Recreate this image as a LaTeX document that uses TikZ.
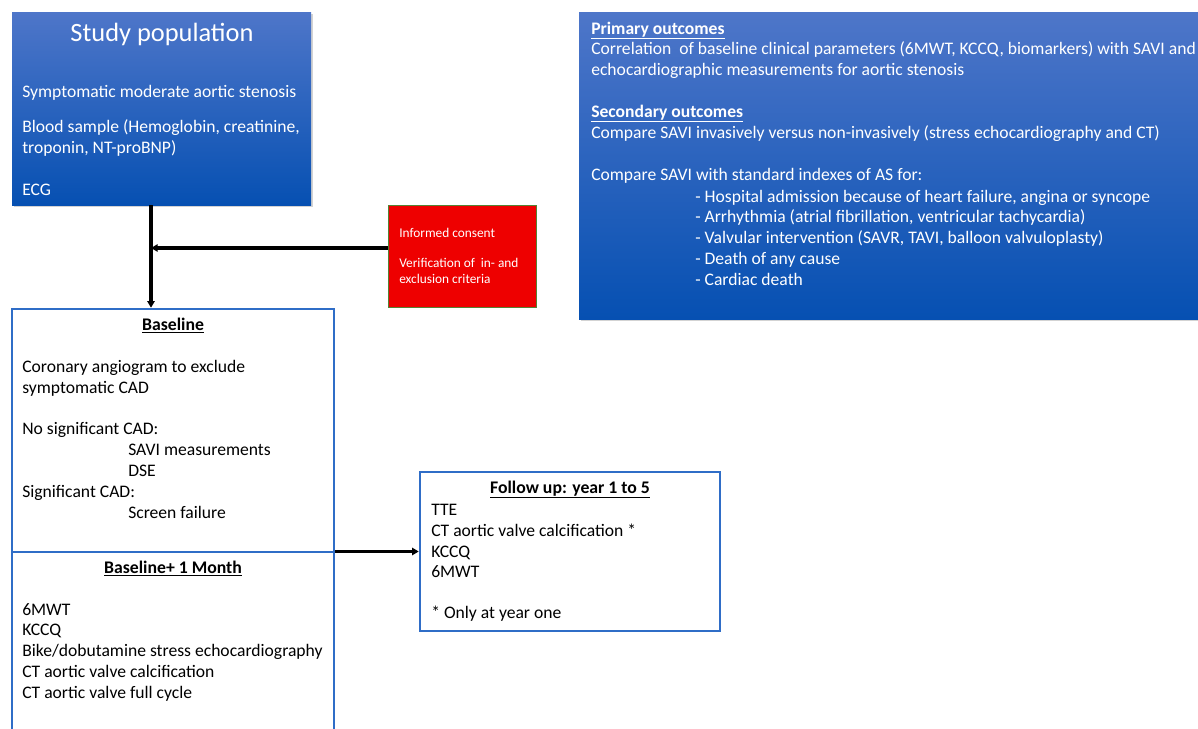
\documentclass[tikz,border=0pt]{standalone}
\usepackage{fontspec}
\setmainfont{Carlito}
\usetikzlibrary{fit,shadows,arrows.meta}

\definecolor{boxtop}{RGB}{78,118,201}
\definecolor{boxbottom}{RGB}{6,80,178}
\definecolor{frameblue}{RGB}{47,109,199}
\definecolor{consentred}{RGB}{238,0,0}
\definecolor{consentedge}{RGB}{84,130,53}

\tikzset{
    bluebox/.style={inner sep=0pt, top color=boxtop, bottom color=boxbottom,
        drop shadow={opacity=0.35, shadow xshift=1.5pt, shadow yshift=-1.5pt}},
    framebox/.style={inner sep=0pt, draw=frameblue, line width=1.9pt},
    redbox/.style={inner sep=0pt, fill=consentred, draw=consentedge, line width=0.6pt},
    whiteline/.style={anchor=base west, inner sep=0pt, text=white, font=\fontsize{13.2}{15}\selectfont},
    blackline/.style={anchor=base west, inner sep=0pt, text=black, font=\fontsize{13.2}{15}\selectfont},
    smallline/.style={anchor=base west, inner sep=0pt, text=white, font=\fontsize{10}{12}\selectfont},
    heading/.style={anchor=base, inner sep=0pt, font=\fontsize{13.3}{15}\selectfont\bfseries},
    flow/.style={line width=2.8pt, -{Triangle[length=5pt,width=5.5pt]}}
}

\begin{document}
\begin{tikzpicture}[x=0.75pt, y=-0.75pt]
    \useasboundingbox (0,0) rectangle (1198,728);

    % Boxes
    \node[bluebox, fit={(12,12) (311,205)}] (study) {};
    \node[bluebox, fit={(579,12) (1215,319)}] (outcomes) {};
    \node[redbox, fit={(388,205) (536,307)}] (consent) {};
    \node[framebox, fit={(12,309) (334,552)}] (baseline) {};
    \node[framebox, fit={(12,552) (334,745)}] (month) {};
    \node[framebox, fit={(420,472) (720,631)}] (followup) {};

    % Study population
    \node[text=white, inner sep=0pt, font=\fontsize{19.8}{22}\selectfont] (studytitle) at (162,34) {Study population};
    \foreach \y/\t [count=\i] in {97/Symptomatic moderate aortic stenosis,
            132/{Blood sample (Hemoglobin, creatinine,}, 153/{troponin, NT-proBNP)}, 195/ECG}
        \node[whiteline] (study\i) at (22,\y) {\t};

    % Consent
    \foreach \y/\t [count=\i] in {237/Informed consent, 267/Verification of ~in- and, 283/exclusion criteria}
        \node[smallline] (consent\i) at (399,\y) {\t};

    % Outcomes
    \node[whiteline, font=\fontsize{13.2}{15}\selectfont\bfseries] (primary) at (591,34) {\underline{Primary outcomes}};
    \node[whiteline, font=\fontsize{13.2}{15}\selectfont\bfseries] (secondary) at (591,117) {\underline{Secondary outcomes}};
    \foreach \y/\t [count=\i] in {54/{Correlation ~of baseline clinical parameters (6MWT, KCCQ, biomarkers) with SAVI and},
            75/echocardiographic measurements for aortic stenosis,
            138/Compare SAVI invasively versus non-invasively (stress echocardiography and CT),
            180/Compare SAVI with standard indexes of AS for:}
        \node[whiteline] (outcome\i) at (591,\y) {\t};
    \foreach \y/\t [count=\i] in {202/{- Hospital admission because of heart failure, angina or syncope},
            222/{- Arrhythmia (atrial fibrillation, ventricular tachycardia)},
            243/{- Valvular intervention (SAVR, TAVI, balloon valvuloplasty)},
            264/- Death of any cause, 285/- Cardiac death}
        \node[whiteline] (item\i) at (695,\y) {\t};

    % Baseline
    \node[heading] (baselinehead) at (173,330) {\underline{Baseline}};
    \foreach \x/\y/\t [count=\i] in {22/372/Coronary angiogram to exclude, 22/393/symptomatic CAD,
            22/434/No significant CAD:, 128/455/SAVI measurements, 128/476/DSE,
            22/497/Significant CAD:, 128/518/Screen failure}
        \node[blackline] (baseline\i) at (\x,\y) {\t};

    % Baseline + 1 month
    \node[heading] (monthhead) at (173,573) {\underline{Baseline+ 1 Month}};
    \foreach \y/\t [count=\i] in {615/6MWT, 635/KCCQ, 656/{Bike/dobutamine stress echocardiography},
            677/CT aortic valve calcification, 698/CT aortic valve full cycle}
        \node[blackline] (month\i) at (22,\y) {\t};

    % Follow up
    \node[heading] (followhead) at (570,493) {\underline{Follow up: year 1 to 5}};
    \foreach \y/\t [count=\i] in {515/TTE, 536/CT aortic valve calcification *, 557/KCCQ, 577/6MWT, 618/* Only at year one}
        \node[blackline] (follow\i) at (431,\y) {\t};

    % Connectors
    \coordinate (drop) at (151,0);
    \draw[flow] (study.south -| drop) -- (baseline.north -| drop);
    \draw[flow] ([yshift=6pt]consent.west) -- ([yshift=6pt]consent.west -| drop);
    \draw[flow] (followup.west -| baseline.east) -- (followup.west);
\end{tikzpicture}
\end{document}
